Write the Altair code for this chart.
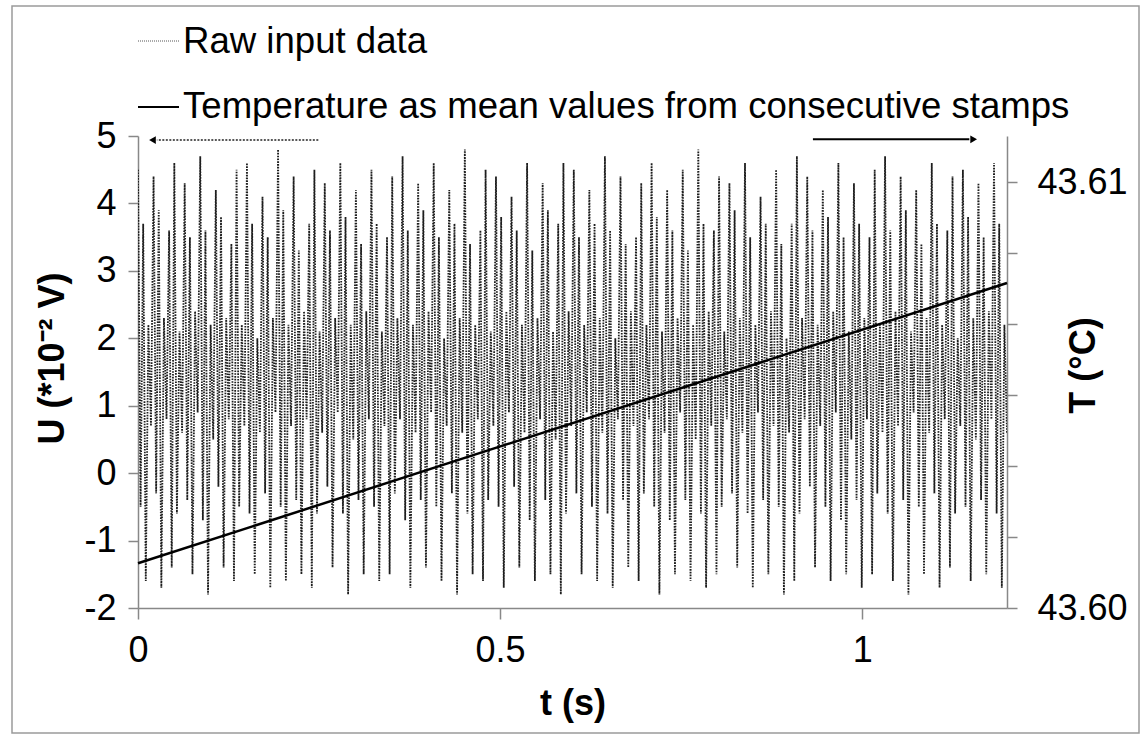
import altair as alt
import pandas as pd

# ---- raw input data (U in 1e-2 V) ----
U_RAW = [
    4.5, -0.5, 3.7, -1.6, 2.2, 0.7,   4.4, -0.3, 3.9, -1.7, 2.3, 0.8,
    3.6, -1.4, 4.6, -0.6, 2.1, 0.6,   4.3, -0.4, 3.5, -1.5, 2.4, 0.9,
    4.7, -0.7, 3.6, -1.8, 2.2, 0.5,   4.2, -0.2, 3.8, -1.4, 2.3, 0.8,
    3.4, -1.6, 4.5, -0.5, 2.2, 0.7,   4.6, -0.6, 3.7, -1.5, 2.0, 0.6,
    4.1, -0.3, 3.5, -1.7, 2.3, 0.9,   4.8, -0.5, 3.9, -1.6, 2.2, 0.7,
    4.4, -0.4, 3.3, -1.5, 2.4, 0.8,   3.7, -1.7, 4.5, -0.6, 2.1, 0.6,
    4.3, -0.2, 3.6, -1.4, 2.3, 0.9,   4.6, -0.6, 3.8, -1.8, 2.2, 0.5,
    4.2, -0.4, 3.4, -1.5, 2.4, 0.8,   4.5, -0.5, 3.7, -1.6, 2.1, 0.7,
    3.5, -1.5, 4.4, -0.3, 2.3, 0.8,   4.7, -0.7, 3.6, -1.7, 2.2, 0.6,
    4.3, -0.4, 3.9, -1.4, 2.4, 0.9,   4.6, -0.5, 3.5, -1.6, 2.0, 0.7,
    4.2, -0.3, 3.7, -1.8, 2.3, 0.6,   4.8, -0.6, 3.4, -1.5, 2.2, 0.8,
    3.6, -1.6, 4.5, -0.4, 2.1, 0.7,   4.4, -0.5, 3.8, -1.7, 2.4, 0.9,
    4.1, -0.2, 3.6, -1.4, 2.2, 0.6,   4.6, -0.7, 3.3, -1.6, 2.3, 0.8,
    4.3, -0.4, 3.9, -1.5, 2.1, 0.5,   3.7, -1.8, 4.6, -0.6, 2.4, 0.7,
    4.5, -0.3, 3.5, -1.5, 2.2, 0.9,   4.2, -0.5, 3.7, -1.6, 2.3, 0.6,
    4.7, -0.6, 3.6, -1.7, 2.0, 0.8,   4.4, -0.4, 3.4, -1.4, 2.4, 0.7,
    3.5, -1.6, 4.3, -0.3, 2.2, 0.8,   4.6, -0.5, 3.8, -1.8, 2.1, 0.6,
    4.2, -0.7, 3.6, -1.5, 2.3, 0.9,   4.5, -0.4, 3.3, -1.6, 2.2, 0.5,
    4.8, -0.6, 3.7, -1.7, 2.4, 0.7,   3.6, -1.5, 4.4, -0.5, 2.1, 0.8,
    4.3, -0.3, 3.9, -1.4, 2.3, 0.6,   4.6, -0.6, 3.5, -1.7, 2.2, 0.9,
    4.1, -0.4, 3.7, -1.5, 2.4, 0.7,   4.5, -0.5, 3.4, -1.8, 2.0, 0.6,
    3.7, -1.6, 4.7, -0.6, 2.3, 0.8,   4.4, -0.2, 3.6, -1.4, 2.2, 0.7,
    4.2, -0.5, 3.8, -1.6, 2.4, 0.9,   4.6, -0.7, 3.5, -1.5, 2.1, 0.5,
    4.3, -0.4, 3.7, -1.7, 2.3, 0.8,   3.5, -1.5, 4.5, -0.3, 2.2, 0.6,
    4.7, -0.6, 3.6, -1.6, 2.4, 0.7,   4.4, -0.4, 3.9, -1.8, 2.1, 0.9,
    4.2, -0.5, 3.4, -1.5, 2.3, 0.6,   4.6, -0.3, 3.7, -1.7, 2.2, 0.8,
    3.6, -1.4, 4.4, -0.6, 2.0, 0.7,   4.5, -0.5, 3.8, -1.6, 2.3, 0.5,
    4.3, -0.4, 3.5, -1.5, 2.4, 0.8,   4.6, -0.6, 3.7, -1.7, 2.2, 0.6,
]
T_END = 1.2                      # last sample time (s)
SAMPLE_DT = T_END / (len(U_RAW) - 1)
T_RAW = [i * SAMPLE_DT for i in range(len(U_RAW))]

# ---- temperature (mean values from consecutive stamps) ----
TEMP_T = [0.0, 1.2]
TEMP_C = [43.60105, 43.60763]

# ---- axes ----
X_TICKS = [0, 0.5, 1]
U_TICKS = [-2, -1, 0, 1, 2, 3, 4, 5]
T_TICKS = [43.6, 43.6016667, 43.6033333, 43.605, 43.6066667, 43.6083333, 43.61]
T_DOMAIN = [43.60, 43.611081]

# ---- arrows (t, t2, U) ----
ARROW_DOTTED = {"t": [0.249], "t2": [0.026], "U": [4.94]}
ARROW_SOLID = {"t": [0.932], "t2": [1.148], "U": [4.95]}
HEAD_LEFT = {"t": [0.02], "U": [4.94]}
HEAD_RIGHT = {"t": [1.154], "U": [4.95]}

LEGEND_LABELS = ["Raw input data", "Temperature as mean values from consecutive stamps"]

FONT = "Liberation Sans"
GREY = "#888888"

raw_df = pd.DataFrame({"t": T_RAW, "U": U_RAW})
temp_df = pd.DataFrame({"t": TEMP_T, "T": TEMP_C})

x_enc = alt.X(
    "t:Q",
    scale=alt.Scale(domain=[0, 1.2], nice=False, zero=False),
    axis=alt.Axis(values=X_TICKS, format="~g", title="t (s)", tickSize=11,
                  labelPadding=14, titleX=434.5, titleY=106,
                  titleBaseline="alphabetic", titleAlign="center"),
)
y_enc = alt.Y(
    "U:Q",
    scale=alt.Scale(domain=[-2, 5], nice=False, zero=False),
    axis=alt.Axis(values=U_TICKS, labelExpr="toString(datum.value)",
                  title="U (*10⁻² V)", tickSize=10,
                  labelPadding=12, titleAngle=270, titleX=-86, titleY=222,
                  titleAlign="center", titleBaseline="middle"),
)

raw = alt.Chart(raw_df).mark_line(
    stroke="#1e1e1e", strokeWidth=1.8, strokeDash=[1.6, 1.2], clip=True
).encode(x=x_enc, y=y_enc)

arrow_dotted = alt.Chart(pd.DataFrame(ARROW_DOTTED)).mark_rule(
    color="#222222", strokeWidth=1.5, strokeDash=[2, 1.5]
).encode(x=x_enc, x2="t2:Q", y=y_enc)
arrow_solid = alt.Chart(pd.DataFrame(ARROW_SOLID)).mark_rule(
    color="black", strokeWidth=2
).encode(x=x_enc, x2="t2:Q", y=y_enc)
head_left = alt.Chart(pd.DataFrame(HEAD_LEFT)).mark_point(
    shape="triangle-left", filled=True, color="black", size=60, opacity=1
).encode(x=x_enc, y=y_enc)
head_right = alt.Chart(pd.DataFrame(HEAD_RIGHT)).mark_point(
    shape="triangle-right", filled=True, color="black", size=60, opacity=1
).encode(x=x_enc, y=y_enc)

one = pd.DataFrame({"k": [0]})
leg_text1 = alt.Chart(pd.DataFrame({"label": [LEGEND_LABELS[0]]})).mark_text(
    align="left", baseline="alphabetic", font=FONT, fontSize=36.6, color="black"
).encode(text="label:N", x=alt.value(45), y=alt.value(-83))
leg_text2 = alt.Chart(pd.DataFrame({"label": [LEGEND_LABELS[1]]})).mark_text(
    align="left", baseline="alphabetic", font=FONT, fontSize=36.6, color="black"
).encode(text="label:N", x=alt.value(45), y=alt.value(-18))
leg_line1 = alt.Chart(one).mark_rule(
    color="#555555", strokeWidth=1, strokeDash=[1, 1]
).encode(x=alt.value(0), x2=alt.value(41), y=alt.value(-95))
leg_line2 = alt.Chart(one).mark_rule(color="black", strokeWidth=2).encode(
    x=alt.value(0), x2=alt.value(41), y=alt.value(-29))
frame = alt.Chart(one).mark_rect(
    fillOpacity=0, stroke="#9a9a9a", strokeWidth=1.5
).encode(x=alt.value(-126), x2=alt.value(1001), y=alt.value(-130), y2=alt.value(597))

left_group = alt.layer(raw, arrow_dotted, arrow_solid, head_left, head_right,
                       leg_line1, leg_line2, leg_text1, leg_text2, frame)

temp = alt.Chart(temp_df).mark_line(color="black", strokeWidth=2.5).encode(
    x=x_enc,
    y=alt.Y(
        "T:Q",
        scale=alt.Scale(domain=T_DOMAIN, nice=False, zero=False),
        axis=alt.Axis(
            orient="right", values=T_TICKS, title="T (°C)", tickSize=10,
            labelPadding=20,
            labelExpr="abs(datum.value - 43.6) < 1e-6 ? '43.60' : (abs(datum.value - 43.61) < 1e-6 ? '43.61' : '')",
            titleAngle=270, titleX=76, titleY=229, titleAlign="center",
            titleBaseline="middle",
        ),
    ),
)

chart = (
    alt.layer(left_group, temp)
    .resolve_scale(y="independent")
    .properties(
        width=869, height=472,
        padding={"left": 138, "top": 136, "right": 134, "bottom": 128},
        autosize=alt.AutoSizeParams(type="none"),
        background="white",
    )
    .configure_view(stroke=None)
    .configure_axis(
        grid=False, domainColor=GREY, tickColor=GREY, domainWidth=1.5, tickWidth=1.5,
        labelFont=FONT, labelFontSize=36, labelColor="black",
        titleFont=FONT, titleFontSize=36, titleFontWeight="bold", titleColor="black",
        labelOverlap=False, labelBound=False, labelFlush=False,
    )
)

chart.save("out.html", embed_options={"renderer": "svg", "actions": False})
